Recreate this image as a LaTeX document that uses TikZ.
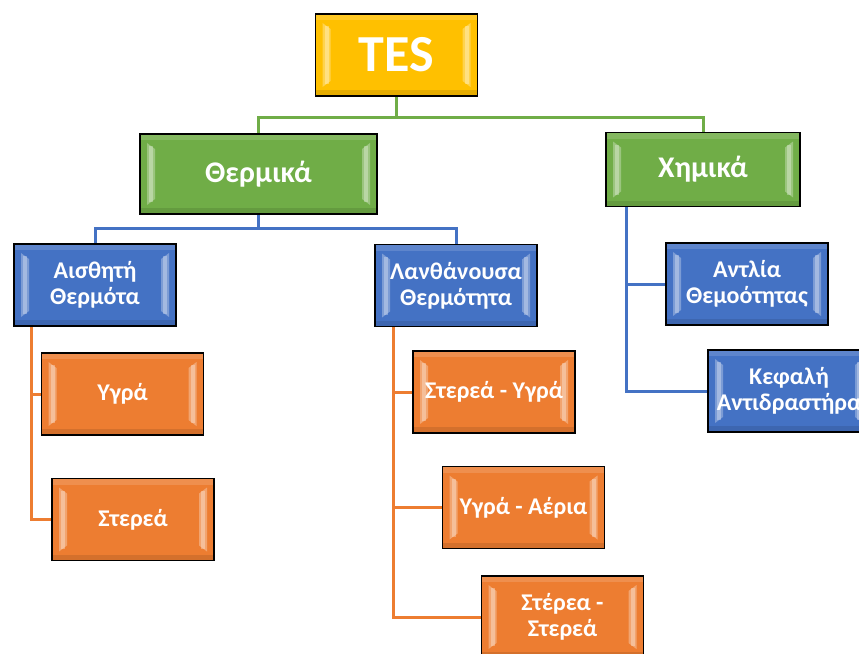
\documentclass[tikz,border=0pt]{standalone}
\usepackage{fontspec}
\setmainfont{Carlito}
\usetikzlibrary{positioning,backgrounds}
\definecolor{tesgold}{HTML}{FFC000}
\definecolor{tesgreen}{HTML}{70AD47}
\definecolor{tesblue}{HTML}{4472C4}
\definecolor{tesorange}{HTML}{ED7D31}
\tikzset{bevel/.style={path picture={
  \fill[white,opacity=.14] ([yshift=-6pt]path picture bounding box.north west) rectangle (path picture bounding box.north east);
  \fill[black,opacity=.10] ([yshift=6pt]path picture bounding box.south west) rectangle (path picture bounding box.south east);
  \fill[white,opacity=.3] ([shift={(7pt,-9pt)}]path picture bounding box.north west) -- ([shift={(15pt,-15pt)}]path picture bounding box.north west)
    -- ([shift={(15pt,15pt)}]path picture bounding box.south west) -- ([shift={(7pt,9pt)}]path picture bounding box.south west) -- cycle;
  \fill[white,opacity=.3] ([shift={(-7pt,-9pt)}]path picture bounding box.north east) -- ([shift={(-15pt,-15pt)}]path picture bounding box.north east)
    -- ([shift={(-15pt,15pt)}]path picture bounding box.south east) -- ([shift={(-7pt,9pt)}]path picture bounding box.south east) -- cycle;
  \fill[white,opacity=.3] ([shift={(9pt,-12pt)}]path picture bounding box.north west) rectangle ([shift={(13pt,12pt)}]path picture bounding box.south west);
  \fill[white,opacity=.3] ([shift={(-9pt,-12pt)}]path picture bounding box.north east) rectangle ([shift={(-13pt,12pt)}]path picture bounding box.south east);
}}}
\begin{document}
\begin{tikzpicture}[x=1pt,y=-1pt,
  box/.style={draw=black,line width=1.6pt,fill=#1,bevel,align=center,text=white,font=\bfseries\fontsize{24}{26}\selectfont,minimum width=162pt,minimum height=82pt},
  link/.style={draw=#1,line width=3pt}]
\useasboundingbox (0,0) rectangle (859,653);
\clip (0,0) rectangle (859,653);
% upper levels
\node[box=tesgold,font=\bfseries\fontsize{52}{56}\selectfont] (tes) at (396.5,55) {TES};
\node[box=tesgreen,font=\bfseries\fontsize{30}{34}\selectfont,minimum width=237pt,minimum height=80pt] (therm) at (258.5,174) {Θερμικά};
\node[box=tesgreen,font=\bfseries\fontsize{30}{34}\selectfont,minimum width=194pt,minimum height=74pt] (chem) at (703,169.5) {Χημικά};
\node[box=tesblue] (sens) at (95,285) {Αισθητή\\Θερμότα};
\node[box=tesblue] (lat) at (456,285.5) {Λανθάνουσα\\Θερμότητα};
\node[box=tesblue] (pump) at (747,284) {Αντλία\\Θεμοότητας};
\node[box=tesblue] (head) at (789,391) {Κεφαλή\\Αντιδραστήρα};
% storage media
\node[box=tesorange] (liq) at (122.5,394) {Υγρά};
\node[box=tesorange] (sol) at (133,519.5) {Στερεά};
\node[box=tesorange] (sl) at (494,392) {Στερεά - Υγρά};
\node[box=tesorange] (lg) at (523.5,507.5) {Υγρά - Αέρια};
\node[box=tesorange] (ss) at (562.5,617) {Στέρεα -\\Στερεά};
% connectors
\begin{scope}[on background layer]
\draw[link=tesgreen] (tes.south)--++(0,21)-|(therm.north);\draw[link=tesgreen] (tes.south)--++(0,21)-|(chem.north);
\draw[link=tesblue] (therm.south)--++(0,14)-|(sens.north);\draw[link=tesblue] (therm.south)--++(0,14)-|(lat.north);
\draw[link=tesblue] ([xshift=21pt]chem.south west)|-(pump.west);\draw[link=tesblue] ([xshift=21pt]chem.south west)|-(head.west);
\draw[link=tesorange] ([xshift=18pt]sens.south west)|-(liq.west);\draw[link=tesorange] ([xshift=18pt]sens.south west)|-(sol.west);
\draw[link=tesorange] ([xshift=19pt]lat.south west)|-(sl.west);\draw[link=tesorange] ([xshift=19pt]lat.south west)|-(lg.west);
\draw[link=tesorange] ([xshift=19pt]lat.south west)|-(ss.west);
\end{scope}
\end{tikzpicture}
\end{document}
